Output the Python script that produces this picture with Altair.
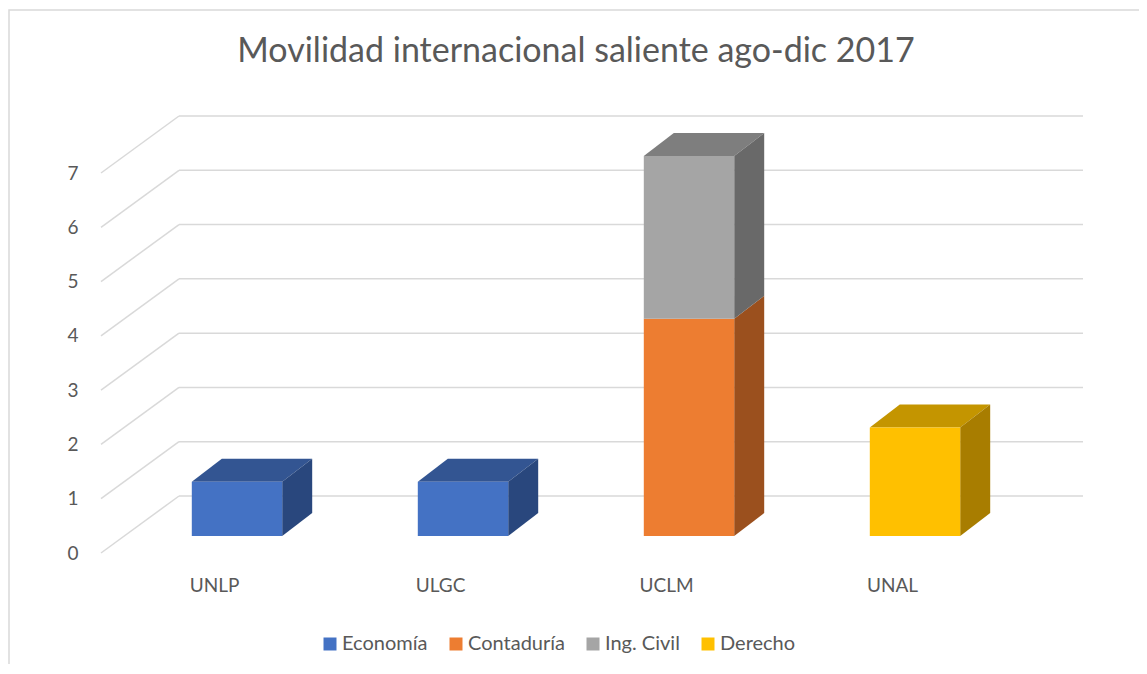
import altair as alt
import pandas as pd

TITLE = "Movilidad internacional saliente ago-dic 2017"
UNIVERSIDADES = ["UNLP", "ULGC", "UCLM", "UNAL"]
SERIES = ["Economía", "Contaduría", "Ing. Civil", "Derecho"]
ECONOMIA = [1, 1, 0, 0]
CONTADURIA = [0, 0, 4, 0]
ING_CIVIL = [0, 0, 3, 0]
DERECHO = [0, 0, 0, 2]
Y_TICKS = [0, 1, 2, 3, 4, 5, 6, 7]

FRONT = ["#4472C4", "#ED7D31", "#A5A5A5", "#FFC000"]
TOP = ["#335592", "#B15E25", "#7E7E7E", "#C49500"]
SIDE = ["#29477D", "#9B501E", "#696969", "#A87D00"]

FONT = "Lato"
TXT = "#595959"
GRID = "#D9D9D9"

W, H = 904, 380
DX = 30 * 4 / W      # bar depth (px -> x units)
DY = 23 * 7 / H      # bar depth (px -> y units)

rows = []
for i, uni in enumerate(UNIVERSIDADES):
    for j, (s, vals) in enumerate(zip(SERIES, [ECONOMIA, CONTADURIA, ING_CIVIL, DERECHO])):
        if vals[i] > 0:
            rows.append({"idx": i, "uni": uni, "serie": s, "orden": j, "valor": vals[i]})
df = pd.DataFrame(rows)
grid_df = pd.DataFrame({"v": Y_TICKS})

xs = alt.Scale(domain=[-0.5, 3.5], nice=False, zero=False)
ys = alt.Scale(domain=[0, 7], nice=False, zero=False)

label_expr = "[" + ",".join("'%s'" % u for u in UNIVERSIDADES) + "][datum.value]"
x_axis = alt.Axis(values=[0, 1, 2, 3], labelExpr=label_expr, ticks=False, tickSize=0,
                  domain=False, grid=False, title=None, labelPadding=40, labelOffset=-23,
                  labelFont=FONT, labelFontSize=19, labelColor=TXT, labelFlush=False,
                  labelOverlap=False)
y_axis = alt.Axis(values=Y_TICKS, ticks=False, tickSize=0, domain=False, grid=False,
                  title=None, labelPadding=46, labelOffset=17, labelFont=FONT,
                  labelFontSize=19, labelColor=TXT)

# gridlines on the back wall
grid_back = alt.Chart(grid_df).mark_rule(
    color=GRID, strokeWidth=1.5, xOffset=55, x2Offset=55, yOffset=-40
).encode(
    x=alt.X(datum=-0.5, type="quantitative", scale=xs, axis=x_axis),
    x2=alt.X2(datum=3.5),
    y=alt.Y("v:Q", scale=ys, axis=y_axis),
)
# diagonal gridlines on the side wall
grid_diag = alt.Chart(grid_df).mark_rule(
    color=GRID, strokeWidth=1.5, xOffset=-23, x2Offset=55, yOffset=17, y2Offset=-40
).encode(
    x=alt.X(datum=-0.5, type="quantitative", scale=xs, axis=x_axis),
    x2=alt.X2(datum=-0.5),
    y=alt.Y("v:Q", scale=ys, axis=y_axis),
    y2=alt.Y2("v:Q"),
)

base = alt.Chart(df).transform_stack(
    stack="valor", groupby=["idx"], sort=[alt.SortField("orden")], as_=["y0", "y1"]
).transform_calculate(
    xl="datum.idx - 0.2", xr="datum.idx + 0.2", key="datum.uni + '|' + datum.serie"
)

# top faces (only the highest segment of each bar)
top = base.transform_joinaggregate(
    ymax="max(y1)", groupby=["idx"]
).transform_filter("datum.y1 == datum.ymax").transform_calculate(
    q0="datum.y1", q1=f"datum.y1 + {DY}"
).transform_fold(["q0", "q1"], as_=["k", "ty"]).transform_calculate(
    sh=f"datum.k == 'q1' ? {DX} : 0",
    txl="datum.xl + datum.sh",
    txr="datum.xr + datum.sh",
).mark_area(orient="horizontal").encode(
    y=alt.Y("ty:Q", scale=ys, axis=y_axis),
    x=alt.X("txl:Q", scale=xs, axis=x_axis, stack=None),
    x2="txr:Q",
    detail="key:N",
    fill=alt.Fill("serie:N", scale=alt.Scale(domain=SERIES, range=TOP), legend=None),
)

# right side faces
side = base.transform_calculate(
    p0="datum.xr", p1=f"datum.xr + {DX}"
).transform_fold(["p0", "p1"], as_=["k", "sx"]).transform_calculate(
    sh=f"datum.k == 'p1' ? {DY} : 0",
    sy1="datum.y1 + datum.sh",
    sy0="datum.y0 + datum.sh",
).mark_area(orient="vertical").encode(
    x=alt.X("sx:Q", scale=xs, axis=x_axis),
    y=alt.Y("sy1:Q", scale=ys, axis=y_axis, stack=None),
    y2="sy0:Q",
    detail="key:N",
    fill=alt.Fill("serie:N", scale=alt.Scale(domain=SERIES, range=SIDE), legend=None),
)

# front faces
front = base.mark_rect().encode(
    x=alt.X("xl:Q", scale=xs, axis=x_axis),
    x2="xr:Q",
    y=alt.Y("y1:Q", scale=ys, axis=y_axis),
    y2="y0:Q",
    color=alt.Color(
        "serie:N",
        scale=alt.Scale(domain=SERIES, range=FRONT),
        legend=alt.Legend(
            orient="none", legendX=196, legendY=478, direction="horizontal", title=None,
            symbolType="square", symbolSize=169, symbolStrokeWidth=0, labelFont=FONT,
            labelFontSize=20, labelColor=TXT, columnPadding=18, labelOffset=2, padding=0,
        ),
    ),
)

frame = alt.Chart(pd.DataFrame({"a": [0]})).mark_rect(
    filled=False, stroke=GRID, strokeWidth=1.5
).encode(
    x=alt.value(-115), x2=alt.value(1100), y=alt.value(-146), y2=alt.value(700)
)

title = alt.Chart(pd.DataFrame({"t": [TITLE]})).mark_text(
    font=FONT, fontSize=34, color=TXT, align="center", baseline="alphabetic"
).encode(
    text="t:N", x=alt.value(W / 2), y=alt.value(-94)
)

chart = alt.layer(frame, title, grid_back, grid_diag, top, side, front).resolve_scale(
    fill="independent"
).properties(
    width=W, height=H,
    autosize=alt.AutoSizeParams(type="none"),
    padding={"left": 116, "top": 148, "right": 111, "bottom": 128},
).configure(background="white").configure_view(stroke=None)

chart.save("out.html", embed_options={"renderer": "svg", "actions": False})
